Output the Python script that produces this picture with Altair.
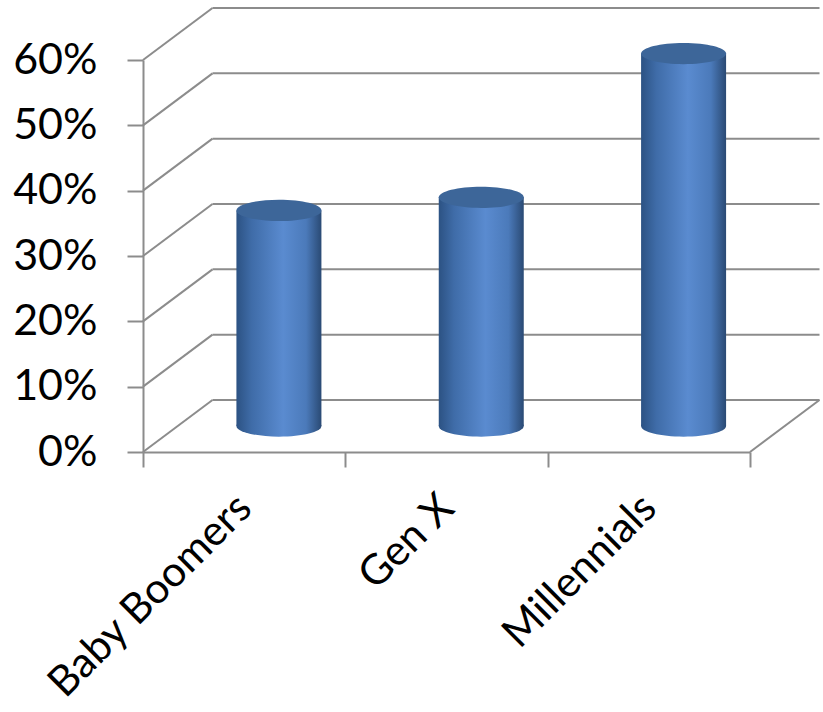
import altair as alt
import pandas as pd

# Survey share by generation
generations = ["Baby Boomers", "Gen X", "Millennials"]
shares = [0.33, 0.35, 0.57]
y_ticks = [0.0, 0.1, 0.2, 0.3, 0.4, 0.5, 0.6]

# Plot geometry (front plane) and depth of the 3-D box
W, H = 607, 392
DX, DY = 69.5, 52          # back wall offset (right, up)
MX, MY = DX / 2, DY / 2    # cylinders stand at mid depth
CYL_W = 85
GRID = "#8c8c8c"
FONT = "Lato"
FS = 43

bars = pd.DataFrame({"generation": generations, "share": shares})
ticks = pd.DataFrame({"v": y_ticks})
floor = pd.DataFrame({"v": [0.0]})

y_scale = alt.Scale(domain=[0, 0.6], nice=False)
y_axis = alt.Axis(
    values=y_ticks, format=".0%", grid=False, title=None,
    labelFont=FONT, labelFontSize=FS, labelColor="#000000", labelPadding=30,
    tickSize=16, tickColor=GRID, tickWidth=2,
    domainColor=GRID, domainWidth=2,
)
x_scale = alt.Scale(domain=generations, paddingInner=0, paddingOuter=0)
x_axis = alt.Axis(
    title=None, tickBand="extent", labelAngle=315, labelAlign="right",
    labelBaseline="middle", labelFont=FONT, labelFontSize=42,
    labelColor="#000000", labelPadding=34, labelLimit=600,
    tickSize=15, tickColor=GRID, tickWidth=2,
    domainColor=GRID, domainWidth=2,
)


def Y(field):
    return alt.Y(field, type="quantitative", scale=y_scale, axis=y_axis)


X = alt.X("generation:N", scale=x_scale, axis=x_axis)

# Diagonal edges from the value axis back to the rear wall
diagonals = alt.Chart(ticks).mark_rule(
    color=GRID, strokeWidth=2, y2Offset=-DY
).encode(y=Y("v"), y2=alt.Y2("v"), x=alt.value(0), x2=alt.value(DX))

# Gridlines on the rear wall (the lowest one is the back edge of the floor)
back_lines = alt.Chart(ticks).mark_rule(
    color=GRID, strokeWidth=2, yOffset=-DY
).encode(y=Y("v"), x=alt.value(DX), x2=alt.value(W + DX))

# Right edge of the floor
floor_edge = alt.Chart(floor).mark_rule(
    color=GRID, strokeWidth=2, y2Offset=-DY
).encode(y=Y("v"), y2=alt.Y2("v"), x=alt.value(W), x2=alt.value(W + DX))

body_fill = alt.Gradient(
    gradient="linear", x1=0, x2=1, y1=0, y2=0,
    stops=[
        alt.GradientStop(color="#2c5283", offset=0.0),
        alt.GradientStop(color="#3f6ca8", offset=0.18),
        alt.GradientStop(color="#5a8bd0", offset=0.55),
        alt.GradientStop(color="#4b7aba", offset=0.82),
        alt.GradientStop(color="#2a4a74", offset=1.0),
    ],
)
ellipse = "M -1 0 A 1 0.25 0 1 1 1 0 A 1 0.25 0 1 1 -1 0 Z"

base = alt.Chart(bars)

bottoms = base.mark_point(
    shape=ellipse, size=CYL_W ** 2, filled=True, opacity=1,
    color=body_fill, strokeWidth=0, xOffset=MX, yOffset=-MY,
).encode(x=X, y=alt.datum(0, type="quantitative", scale=y_scale, axis=y_axis))

bodies = base.mark_bar(
    size=CYL_W, color=body_fill, xOffset=MX, yOffset=-MY, y2Offset=-MY,
).encode(x=X, y=Y("share"), y2=alt.datum(0))

tops = base.mark_point(
    shape=ellipse, size=CYL_W ** 2, filled=True, opacity=1,
    fill="#3d6699", strokeWidth=0, xOffset=MX, yOffset=-MY,
).encode(x=X, y=Y("share"))

chart = (
    alt.layer(diagonals, back_lines, floor_edge, bottoms, bodies, tops)
    .properties(
        width=W, height=H,
        autosize=alt.AutoSizeParams(type="none"),
        padding={"left": 143, "top": 60, "right": 73, "bottom": 260},
        background="#ffffff",
    )
    .configure_view(stroke=None)
)

chart.save("out.html", embed_options={"renderer": "svg", "actions": False})
